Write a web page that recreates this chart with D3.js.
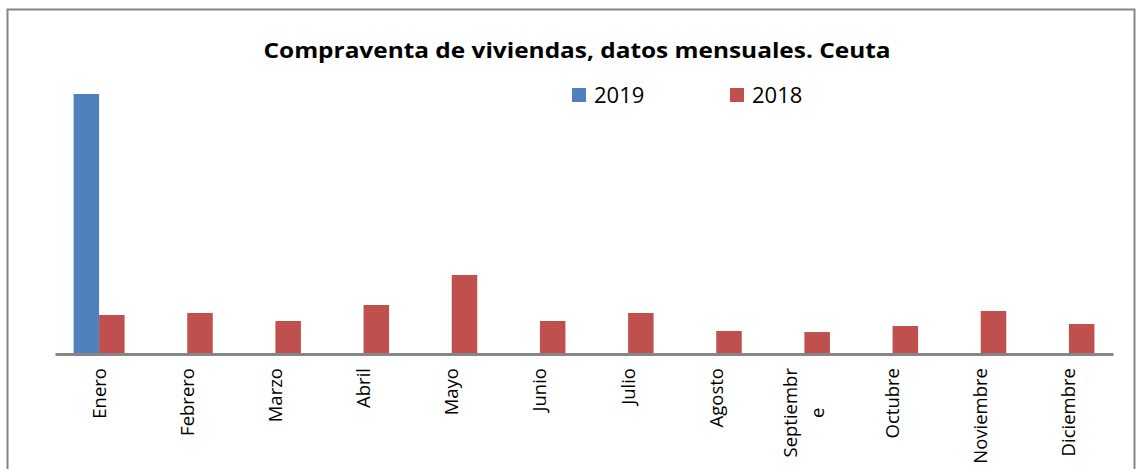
<!DOCTYPE html>
<html lang="es">
<head>
    <meta charset="UTF-8">
    <title>Compraventa de viviendas, Ceuta</title>
    <style>
        body { margin: 0; background: #fff; }
        svg { display: block; font-family: "Open Sans", "Liberation Sans", Arial, sans-serif; }
    </style>
</head>
<body>
<script src="https://cdn.jsdelivr.net/npm/d3@7"></script>
<script>
    const months = ["Enero", "Febrero", "Marzo", "Abril", "Mayo", "Junio", "Julio",
        "Agosto", "Septiembre", "Octubre", "Noviembre", "Diciembre"];
    const series = ["2019", "2018"];
    const values2019 = [260, null, null, null, null, null, null, null, null, null, null, null];
    const values2018 = [39, 41, 33, 49, 79, 33, 41, 23, 22, 28, 43, 30];
    // labels the way the original wraps them
    const tickLines = {"Septiembre": ["Septiembr", "e"]};

    const width = 1138, height = 469;
    const margin = ({top: 94, right: 25, bottom: 115, left: 55});
    const colors = {"2019": "#4f81bd", "2018": "#c0504d"};

    const svg = d3.select("body").append("svg")
        .attr("width", width)
        .attr("height", height);

    // chart frame
    svg.append("rect")
        .attr("x", 7.5).attr("y", 9.5)
        .attr("width", 1127).attr("height", 480)
        .attr("fill", "none")
        .attr("stroke", "#868686")
        .attr("stroke-width", 2);

    const x0 = d3.scaleBand()
        .domain(months)
        .range([margin.left, width - margin.right]);

    const x1 = d3.scaleBand()
        .domain(series)
        .range([x0.bandwidth() / 2 - 25.5, x0.bandwidth() / 2 + 25.5]);

    const y = d3.scaleLinear()
        .domain([0, d3.max(values2019.concat(values2018))])
        .range([height - margin.bottom, margin.top]);

    const data = months.map((m, i) => ({month: m, "2019": values2019[i], "2018": values2018[i]}));

    svg.append("g")
        .selectAll("g")
        .data(data)
        .join("g")
        .attr("transform", d => `translate(${x0(d.month)},0)`)
        .selectAll("rect")
        .data(d => series.filter(k => d[k] != null).map(k => ({key: k, value: d[k]})))
        .join("rect")
        .attr("x", d => x1(d.key))
        .attr("y", d => y(d.value))
        .attr("width", x1.bandwidth())
        .attr("height", d => y(0) - y(d.value))
        .attr("fill", d => colors[d.key]);

    // x axis
    const xAxis = svg.append("g")
        .attr("transform", `translate(0,${y(0)})`)
        .call(d3.axisBottom(x0).tickSize(0).tickSizeOuter(0).tickFormat(""));
    xAxis.select(".domain").attr("stroke", "#868686").attr("stroke-width", 3);

    // rotated month labels, multi-line ones centred on each other
    const labelTop = y(0) + 14;
    svg.append("g")
        .selectAll("text")
        .data(months)
        .join("text")
        .attr("font-size", 18.5)
        .attr("fill", "#000")
        .each(function (d) {
            const lines = tickLines[d] || [d];
            const t = d3.select(this);
            const spans = lines.map((line, i) => t.append("tspan")
                .attr("x", 0)
                .attr("y", (i - (lines.length - 1) / 2) * 27)
                .attr("dy", "0.35em")
                .text(line));
            const longest = d3.max(spans, s => s.node().getComputedTextLength());
            t.attr("text-anchor", "middle")
                .attr("transform", `translate(${x0(d) + x0.bandwidth() / 2},${labelTop + longest / 2}) rotate(-90)`);
        });

    // title
    svg.append("text")
        .attr("x", 577)
        .attr("y", 58)
        .attr("text-anchor", "middle")
        .attr("font-size", 22)
        .attr("font-weight", "bold")
        .attr("textLength", 627)
        .attr("lengthAdjust", "spacingAndGlyphs")
        .text("Compraventa de viviendas, datos mensuales. Ceuta");

    // legend
    const legendX = {"2019": 572, "2018": 730};
    const legend = svg.append("g")
        .selectAll("g")
        .data(series)
        .join("g")
        .attr("transform", d => `translate(${legendX[d]},88)`);

    legend.append("rect")
        .attr("width", 14)
        .attr("height", 14)
        .attr("fill", d => colors[d]);

    legend.append("text")
        .attr("x", 22)
        .attr("y", 14.5)
        .attr("font-size", 22)
        .text(d => d);
</script>
</body>
</html>
